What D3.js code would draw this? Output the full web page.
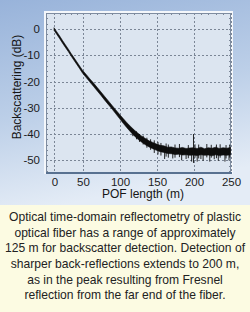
<!DOCTYPE html>
<html><head><meta charset="utf-8">
<script src="https://cdn.jsdelivr.net/npm/d3@7"></script>
<style>html,body{margin:0;padding:0;background:#fff;}svg{display:block;}</style>
</head><body>
<script>
// ---- data ----
const dist = [0,5,10,15,20,25,30,35,40,45,50,55,60,65,70,75,80,85,90,95,100,105,110,115,120,125,130,135,140,145,150,155,160,165,170,175,180,185,190,195,200,205,210,215,220,225,230,235,240,245,250];
const upper = [0.5,-1.1,-2.7,-4.4,-6.0,-7.6,-9.3,-10.9,-12.5,-14.1,-15.7,-17.3,-19.0,-20.6,-22.3,-24.0,-25.7,-27.4,-29.1,-30.8,-32.5,-34.1,-35.7,-37.1,-38.5,-39.7,-40.8,-41.7,-42.6,-43.2,-43.8,-44.3,-44.5,-45.0,-44.9,-45.3,-45.4,-45.1,-45.5,-45.3,-45.2,-45.5,-45.0,-45.6,-45.2,-45.4,-45.0,-45.5,-45.2,-45.4,-45.1];
const lower = [-0.5,-2.1,-3.7,-5.4,-7.0,-8.6,-10.3,-11.9,-13.5,-15.1,-16.8,-18.5,-20.2,-21.9,-23.6,-25.3,-27.1,-28.8,-30.5,-32.3,-34.1,-35.9,-37.6,-39.2,-40.7,-42.0,-43.1,-44.1,-44.9,-45.6,-46.2,-46.7,-47.0,-47.4,-47.5,-47.8,-47.7,-48.0,-47.9,-48.1,-48.0,-48.2,-47.9,-48.1,-48.0,-48.3,-47.9,-48.2,-48.0,-48.1,-47.9];
// noise spikes and the Fresnel peak: [distance, top dB, bottom dB]
const spikeDist = [200,161,172,184,190,197.5,205,210,213,222,228,233.5,242.5,248,
  118,123,127,132,137,142,147,152,156,163,166,175,181,193,202,207,218,224,231,236,244,249];
const spikeTop  = [-40,-46,-46,-46.5,-46.5,-46.5,-46.5,-46.5,-46.5,-46.5,-46.5,-46.5,-46.5,-46.5,
  -38.2,-39.0,-40.0,-40.6,-41.4,-42.0,-42.4,-43.0,-43.4,-43.6,-44.0,-44.0,-43.8,-44.2,-43.9,-44.0,-43.8,-44.1,-44.0,-43.9,-44.2,-44.0];
const spikeBot  = [-51,-49.5,-49.3,-50,-49.5,-50.5,-50.5,-49.5,-50.2,-50.5,-49.6,-50.2,-50.5,-50,
  -40.8,-42.0,-43.0,-44.0,-45.2,-46.0,-47.2,-47.8,-48.2,-48.6,-49.0,-49.0,-48.8,-49.2,-49.0,-49.3,-48.9,-49.0,-49.2,-49.0,-49.3,-49.0];
const xTicks = [0,50,100,150,200,250];
const yTicks = [0,-10,-20,-30,-40,-50];
const xTitle = "POF length (m)";
const yTitle = "Backscattering (dB)";
const caption = [
 "Optical time-domain reflectometry of plastic",
 "optical fiber has a range of approximately",
 "125 m for backscatter detection. Detection of",
 "sharper back-reflections extends to 200 m,",
 "as in the peak resulting from Fresnel",
 "reflection from the far end of the fiber."
];

const W = 250, H = 312;
const svg = d3.select("body").append("svg").attr("width", W).attr("height", H);
const defs = svg.append("defs");
const g = defs.append("linearGradient").attr("id","bg").attr("x1","0").attr("y1","0").attr("x2","0.25").attr("y2","1");
g.append("stop").attr("offset","0").attr("stop-color","#98b3da");
g.append("stop").attr("offset","0.55").attr("stop-color","#bccfe8");
g.append("stop").attr("offset","1").attr("stop-color","#e4ecf6");
svg.append("rect").attr("width",W).attr("height",205).attr("fill","url(#bg)");
svg.append("rect").attr("y",205).attr("width",W).attr("height",H-205).attr("fill","#fcfbe2");

const x = d3.scaleLinear().domain([0,50,250]).range([54,82.5,230.5]);
const y = d3.scaleLinear().domain([-50,0]).range([160.3,29]);

const L=46, R=231, T=13, B=173;
svg.append("rect").attr("x",L-2).attr("y",T-2).attr("width",R-L+4).attr("height",B-T+3).attr("fill","#f4f7fb");
svg.append("rect").attr("x",L).attr("y",T).attr("width",R-L).attr("height",B-T).attr("fill","#dce5f0");

// grid
const grid = svg.append("g").attr("stroke","#7b8696").attr("stroke-width",1).attr("stroke-dasharray","2,2");
grid.selectAll("line.v").data(xTicks).join("line")
  .attr("x1",d=>Math.round(x(d))+0.5).attr("x2",d=>Math.round(x(d))+0.5).attr("y1",T).attr("y2",B);
grid.selectAll("line.h").data(yTicks).join("line")
  .attr("y1",d=>Math.round(y(d))+0.5).attr("y2",d=>Math.round(y(d))+0.5).attr("x1",L).attr("x2",R);

// minor ticks on frame
const yMinor = d3.range(-54,7,2);
svg.append("g").attr("stroke","#7b8696").selectAll("line").data(yMinor).join("line")
  .attr("x1",L).attr("x2",L+2).attr("y1",d=>Math.round(y(d))+0.5).attr("y2",d=>Math.round(y(d))+0.5);
svg.append("g").attr("stroke","#7b8696").selectAll("line").data(yMinor).join("line")
  .attr("x1",R-2).attr("x2",R).attr("y1",d=>Math.round(y(d))+0.5).attr("y2",d=>Math.round(y(d))+0.5);
const xMinor = d3.range(0,251,10);
svg.append("g").attr("stroke","#7b8696").selectAll("line").data(xMinor).join("line")
  .attr("x1",d=>Math.round(x(d))+0.5).attr("x2",d=>Math.round(x(d))+0.5).attr("y1",T).attr("y2",T+2);

// frame
svg.append("rect").attr("x",L+0.5).attr("y",T+0.5).attr("width",R-L-1).attr("height",B-T-1)
  .attr("fill","none").attr("stroke","#7e8ca0");
svg.append("line").attr("x1",L).attr("x2",R+1).attr("y1",B).attr("y2",B).attr("stroke","#587190").attr("stroke-width",2);

// trace band
const pts = dist.map((d,i)=>({d, u:upper[i], l:lower[i]}));
svg.append("path").datum(pts)
  .attr("d", d3.area().x(p=>x(p.d)).y0(p=>y(p.l)).y1(p=>y(p.u)))
  .attr("fill","#0d0d0d").attr("stroke","#0d0d0d").attr("stroke-width",0.6).attr("stroke-linejoin","round");
// spikes
svg.append("g").attr("stroke","#0d0d0d").attr("stroke-width",0.9).selectAll("line")
  .data(spikeDist.map((d,i)=>({d,t:spikeTop[i],b:spikeBot[i]}))).join("line")
  .attr("x1",s=>x(s.d)).attr("x2",s=>x(s.d)).attr("y1",s=>y(s.t)).attr("y2",s=>y(s.b));

// tick labels
const font = "'Liberation Sans', Arial, sans-serif";
svg.append("g").selectAll("text").data(xTicks).join("text")
  .attr("x",d=>x(d)+1).attr("y",186).attr("text-anchor","middle")
  .attr("font-family",font).attr("font-size",11.5).attr("fill","#1c1c1c").text(d=>d);
svg.append("g").selectAll("text").data(yTicks).join("text")
  .attr("x",40).attr("y",d=>y(d)+4).attr("text-anchor","end")
  .attr("font-family",font).attr("font-size",11.5).attr("fill","#1c1c1c").text(d=>d);
svg.append("text").attr("x",143).attr("y",198).attr("text-anchor","middle")
  .attr("font-family",font).attr("font-size",12).attr("fill","#151515").text(xTitle);
svg.append("text").attr("transform","translate(21,87) rotate(-90)").attr("text-anchor","middle")
  .attr("font-family",font).attr("font-size",12).attr("fill","#151515").text(yTitle);

// caption
svg.append("g").selectAll("text").data(caption).join("text")
  .attr("x",125).attr("y",(d,i)=>221+15.65*i).attr("text-anchor","middle")
  .attr("font-family",font).attr("font-size",12.1).attr("fill","#222").text(d=>d);
</script>
</body></html>
